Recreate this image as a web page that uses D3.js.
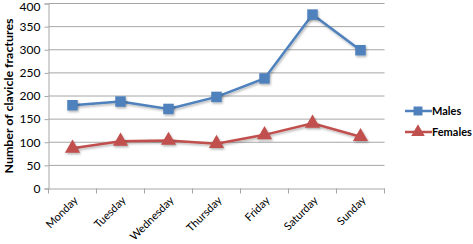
<!DOCTYPE html>
<html><head><meta charset="utf-8">
<script src="https://cdn.jsdelivr.net/npm/d3@7"></script>
<style>body{margin:0;background:#fff}svg{display:block}</style>
</head><body>
<svg id="c" width="473" height="244"></svg>
<script>
const days = ["Monday","Tuesday","Wednesday","Thursday","Friday","Saturday","Sunday"];
const males = [180,188,172,198,238,376,299];
const females = [87,102,104,97,116,141,112];
const yTicks = [0,50,100,150,200,250,300,350,400];
const seriesNames = ["Males","Females"];
const colors = ["#4f81bd","#c0504d"];

const svg = d3.select("#c");
const font = "Lato, 'Open Sans', sans-serif";
const x = d3.scaleBand().domain(days).range([48.5,384.5]);
const y = d3.scaleLinear().domain([0,400]).range([188.5,3.5]);

svg.append("g").selectAll("line").data(yTicks.slice(1)).join("line")
  .attr("x1",48.5).attr("x2",384.5).attr("y1",d=>y(d)).attr("y2",d=>y(d))
  .attr("stroke","#a6a6a6").attr("stroke-width",1);

const ya = svg.append("g").attr("transform","translate(48.5,0)")
  .call(d3.axisLeft(y).tickValues(yTicks).tickSize(4).tickPadding(4));
ya.select(".domain").attr("stroke","#a6a6a6");
ya.selectAll(".tick line").attr("stroke","#a6a6a6");
ya.selectAll("text").attr("font-family",font).attr("font-size",12).attr("fill","#000");
ya.selectAll(".tick").filter(d=>d===400).select("text").attr("dy","0.55em");

const xa = svg.append("g").attr("transform","translate(0,188.5)")
  .call(d3.axisBottom(x).tickSizeOuter(0).tickSize(0));
xa.select(".domain").attr("stroke","#a6a6a6");
xa.selectAll(".tick text").remove();
xa.selectAll(".tick line").remove();
const bounds = days.map(d=>x(d)).concat([x.range()[1]]);
svg.append("g").selectAll("line").data(bounds).join("line")
  .attr("x1",d=>d).attr("x2",d=>d).attr("y1",188.5).attr("y2",193.5)
  .attr("stroke","#a6a6a6");
svg.append("g").selectAll("text").data(days).join("text")
  .attr("transform",d=>`translate(${x(d)+x.bandwidth()/2+6},201) rotate(-45)`)
  .attr("text-anchor","end").attr("font-family",font).attr("font-size",11)
  .attr("fill","#000").text(d=>d);

svg.append("text").attr("transform","translate(13,96) rotate(-90)")
  .attr("text-anchor","middle").attr("font-family",font).attr("font-weight","bold")
  .attr("font-size",11).attr("textLength",155).attr("lengthAdjust","spacingAndGlyphs")
  .attr("fill","#000").text("Number of clavicle fractures");

const cx = d => x(d)+x.bandwidth()/2;
const line = d3.line().x((v,i)=>cx(days[i])).y(v=>y(v));
const defs = svg.append("defs");
defs.append("filter").attr("id","sh").attr("x","-50%").attr("y","-50%").attr("width","200%").attr("height","200%")
  .html('<feDropShadow dx="1" dy="1.5" stdDeviation="1" flood-color="#000" flood-opacity="0.3"/>');

[males,females].forEach((data,si)=>{
  svg.append("path").datum(data).attr("d",line).attr("fill","none")
    .attr("stroke",colors[si]).attr("stroke-width",2.5).attr("filter","url(#sh)");
  const sym = d3.symbol().type(si===0?d3.symbolSquare:d3.symbolTriangle).size(si===0?110:100);
  svg.append("g").selectAll("path").data(data).join("path")
    .attr("transform",(v,i)=>`translate(${cx(days[i])},${y(v)})`)
    .attr("d",sym).attr("fill",colors[si]).attr("filter","url(#sh)");
});

const leg = svg.append("g");
seriesNames.forEach((n,i)=>{
  const ly = 111 + i*21;
  leg.append("line").attr("x1",405).attr("x2",432).attr("y1",ly).attr("y2",ly)
    .attr("stroke",colors[i]).attr("stroke-width",2.5);
  leg.append("path").attr("transform",`translate(418,${ly})`)
    .attr("d",d3.symbol().type(i===0?d3.symbolSquare:d3.symbolTriangle).size(80))
    .attr("fill",colors[i]);
  leg.append("text").attr("x",432).attr("y",ly+4).attr("font-family",font)
    .attr("font-weight","bold").attr("font-size",11).attr("fill","#000").text(n);
});
</script>
</body></html>
